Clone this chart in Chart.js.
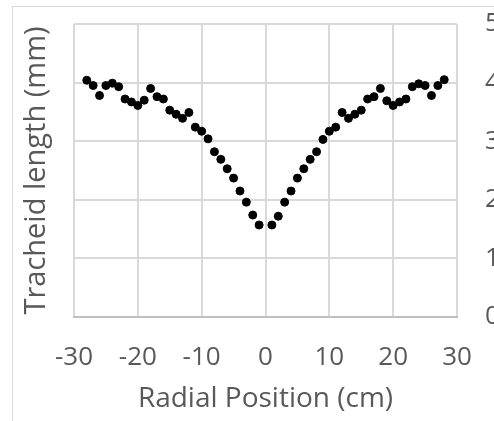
<!DOCTYPE html>
<html>
<head>
<meta charset="utf-8">
<script src="https://cdn.jsdelivr.net/npm/chart.js@4"></script>
<style>
    html, body { margin: 0; padding: 0; overflow: hidden; background: #fff; }
    #frame {
        position: absolute; left: 12px; top: 6px; width: 600px; height: 600px;
        border-left: 1px solid #d9d9d9; border-top: 1px solid #d9d9d9;
    }
    #wrap { position: absolute; left: 0; top: 0; width: 520px; height: 421px; }
</style>
</head>
<body>
<div id="frame"></div>
<div id="wrap"><canvas id="tracheidChart" width="520" height="421"></canvas></div>
<script>
const radialPositions = [
    -28, -27, -26, -25, -24, -23, -22, -21, -20, -19, -18, -17, -16, -15,
    -14, -13, -12, -11, -10, -9, -8, -7, -6, -5, -4, -3, -2, -1,
    1, 2, 3, 4, 5, 6, 7, 8, 9, 10, 11, 12, 13, 14,
    15, 16, 17, 18, 19, 20, 21, 22, 23, 24, 25, 26, 27, 28
];
const tracheidLengths = [
    4.04, 3.95, 3.78, 3.95, 3.99, 3.93, 3.72, 3.67, 3.61, 3.70, 3.90, 3.76, 3.72, 3.53,
    3.46, 3.39, 3.49, 3.24, 3.17, 3.04, 2.82, 2.69, 2.53, 2.37, 2.15, 1.96, 1.74, 1.57,
    1.57, 1.72, 1.96, 2.15, 2.37, 2.53, 2.69, 2.82, 3.03, 3.17, 3.24, 3.49, 3.39, 3.46,
    3.53, 3.72, 3.76, 3.90, 3.69, 3.61, 3.67, 3.72, 3.93, 3.98, 3.95, 3.78, 3.95, 4.05
];
const xTicks = [-30, -20, -10, 0, 10, 20, 30];
const yTicks = [0, 1, 2, 3, 4, 5];

const textColor = "#595959";
const gridColor = "#d9d9d9";
const fontFamily = "'Open Sans', sans-serif";

function drawChart() {
    const points = radialPositions.map((x, i) => ({x: x, y: tracheidLengths[i]}));

    const ctx = document.getElementById("tracheidChart").getContext("2d");
    new Chart(ctx, {
        type: "scatter",
        data: {
            datasets: [{
                data: points,
                backgroundColor: "#000",
                borderColor: "#000",
                pointRadius: 4,
                yAxisID: "y"
            }]
        },
        options: {
            responsive: false,
            animation: false,
            devicePixelRatio: 1,
            layout: {padding: {top: 24, left: 0, right: 0, bottom: 0}},
            plugins: {legend: {display: false}, tooltip: {enabled: false}},
            scales: {
                x: {
                    type: "linear",
                    min: xTicks[0],
                    max: xTicks[xTicks.length - 1],
                    afterBuildTicks: scale => { scale.ticks = xTicks.map(v => ({value: v})); },
                    afterFit: scale => { scale.height = 104; },
                    ticks: {color: textColor, font: {family: fontFamily, size: 26}, padding: 25},
                    grid: {color: gridColor, lineWidth: 2, drawTicks: false},
                    border: {color: "#bfbfbf", width: 2},
                    title: {
                        display: true,
                        text: "Radial Position (cm)",
                        color: textColor,
                        font: {family: fontFamily, size: 28},
                        padding: {top: 0, bottom: 5}
                    }
                },
                y: {
                    position: "right",
                    min: yTicks[0],
                    max: yTicks[yTicks.length - 1],
                    afterBuildTicks: scale => { scale.ticks = yTicks.map(v => ({value: v})); },
                    // fixed width, and no extra room above/below for the labels
                    afterFit: scale => {
                        scale.width = 63;
                        scale.paddingTop = 0;
                        scale.paddingBottom = 0;
                    },
                    ticks: {color: textColor, font: {family: fontFamily, size: 26}, padding: 28},
                    grid: {color: gridColor, lineWidth: 2, drawTicks: false},
                    border: {display: false}
                },
                // empty left axis, only carries the y title
                yTitle: {
                    position: "left",
                    afterFit: scale => { scale.width = 74; },
                    ticks: {display: false},
                    grid: {display: false},
                    border: {display: false},
                    title: {
                        display: true,
                        text: "Tracheid length (mm)",
                        color: textColor,
                        font: {family: fontFamily, size: 29},
                        padding: {top: 19, bottom: 0}
                    }
                }
            }
        }
    });
}

document.addEventListener("DOMContentLoaded", drawChart);
</script>
</body>
</html>
